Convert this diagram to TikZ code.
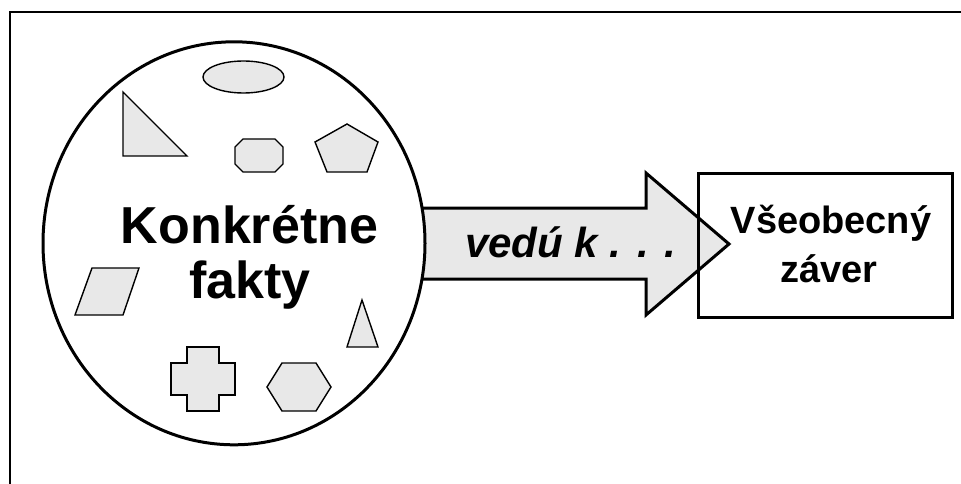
\documentclass[tikz,border=0pt]{standalone}
\usepackage{fontspec}
\setmainfont{Liberation Sans}
\definecolor{shapegray}{RGB}{232,232,232}
\begin{document}
\begin{tikzpicture}[x=1pt,y=-1pt,
  small/.style={draw=black,fill=shapegray,line width=1.4pt,line join=miter},
  thick/.style={draw=black,line width=3pt},
  big/.style={font=\bfseries\fontsize{52}{55}\selectfont,inner sep=0pt,anchor=base},
  concl/.style={font=\bfseries\fontsize{38}{45}\selectfont,inner sep=0pt,anchor=base},
  lead/.style={font=\bfseries\itshape\fontsize{42}{48}\selectfont,inner sep=0pt,anchor=base west}]
\useasboundingbox (0,0) rectangle (961,484);
% frame (cropped at right and bottom)
\draw[line width=2.5pt] (961,12) -- (10,12) -- (10,484);
% block arrow
\coordinate (aL) at (400,244);
\coordinate (aT) at (729,244);
\draw[fill=shapegray,line width=3pt,line join=miter]
  (aL |- 0,208) -- (646,208) -- (646,173) -- (aT) -- (646,315) -- (646,279) -- (aL |- 0,279) -- cycle;
% circle of facts
\draw[thick,fill=white] (234,243.3) ellipse [x radius=191, y radius=201.5];
\node[inner sep=0pt,minimum width=382pt,minimum height=403pt] (facts) at (234,243.3) {};
% conclusion box
\node[draw=black,line width=3pt,minimum width=254pt,minimum height=144pt,inner sep=0pt] (box) at (825,245) {};
\node[concl] (t1) at (831,233) {Všeobecný};
\node[concl] (t2) at (829,282) {záver};
% texts
\node[big] (k1) at (249.5,243) {Konkrétne};
\node[big] (k2) at (250,298) {fakty};
\node[lead] (lead) at (465,257) {vedú k . . .};
% small shapes
\draw[small] (243.5,77) ellipse [x radius=40.5, y radius=16];
\draw[small] (123,92) -- (123,156) -- (187,156) -- cycle;
\draw[small] (243,139) -- (275,139) -- (283,147) -- (283,164) -- (275,172) -- (243,172) -- (235,164) -- (235,147) -- cycle;
\draw[small] (347,124) -- (378,142) -- (367,172) -- (327,172) -- (315,142) -- cycle;
\draw[small] (92,268) -- (139,268) -- (123,315) -- (75,315) -- cycle;
\draw[small] (362,300) -- (378,347) -- (347,347) -- cycle;
\draw[small] (187,347) -- (219,347) -- (219,363) -- (235,363) -- (235,395) -- (219,395) -- (219,411) -- (187,411) -- (187,395) -- (171,395) -- (171,363) -- (187,363) -- cycle;
\draw[small] (267,387) -- (282,363) -- (316,363) -- (331,387) -- (316,411) -- (282,411) -- cycle;
\end{tikzpicture}
\end{document}
